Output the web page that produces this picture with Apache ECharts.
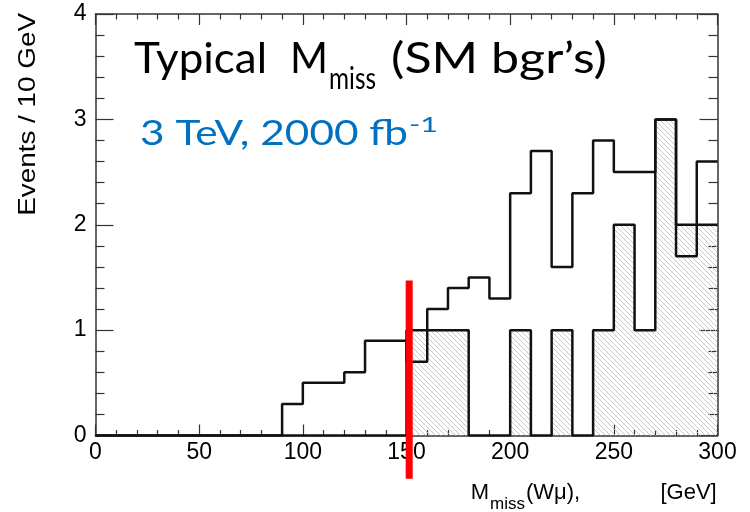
<!DOCTYPE html>
<html>
<head>
<meta charset="utf-8">
<script src="https://cdn.jsdelivr.net/npm/echarts@6/dist/echarts.min.js"></script>
<style>html,body{margin:0;padding:0;background:#fff}#c{width:750px;height:512px}</style>
</head>
<body>
<div id="c"></div>
<script>
// ---- data ----
const binLow = [0,10,20,30,40,50,60,70,80,90,100,110,120,130,140,150,160,170,180,190,200,210,220,230,240,250,260,270,280,290];
const binWidth = 10;
const openCounts = [0,0,0,0,0,0,0,0,0,0.3,0.5,0.5,0.6,0.9,0.9,0.7,1.2,1.4,1.5,1.3,2.3,2.7,1.6,2.3,2.8,2.5,2.5,3.0,1.7,2.6];
const hatchedCounts = [0,0,0,0,0,0,0,0,0,0,0,0,0,0,0,1,1,1,0,0,1,0,1,0,1,2,1,3,2,2];
const xRange = [0, 300];
const yRange = [0, 4];
const cutLine = { x: 151.3, yTop: 1.47, yBottom: -0.41 };

function stepData(counts) {
  const d = binLow.map((x, i) => [x, counts[i]]);
  d.push([binLow[binLow.length - 1] + binWidth, counts[counts.length - 1]]);
  return d;
}

// hatch pattern
const tileSize = 5;
const tile = document.createElement('canvas');
tile.width = tileSize; tile.height = tileSize;
const tc = tile.getContext('2d');
tc.strokeStyle = '#c2c2c2'; tc.lineWidth = 0.9;
for (const o of [-tileSize, 0, tileSize]) {
  tc.beginPath(); tc.moveTo(o, 0); tc.lineTo(o + tileSize, tileSize); tc.stroke();
}

const mctx = document.createElement('canvas').getContext('2d');
function midOffset(size, family) {
  mctx.font = size + 'px "' + family + '"';
  mctx.textBaseline = 'alphabetic';
  const m = mctx.measureText('Hg');
  return (m.fontBoundingBoxAscent - m.fontBoundingBoxDescent) / 2;
}
function txt(str, x, baseline, size, family, color, align, extra) {
  const el = {
    type: 'text', x: x, y: baseline - midOffset(size, family), z: 50, silent: true,
    style: { text: str, fontSize: size, fontFamily: family, fill: color, align: align || 'left', verticalAlign: 'middle' }
  };
  return Object.assign(el, extra || {});
}
function fitTxt(str, x0, x1, baseline, size, family, color) {
  mctx.font = size + 'px "' + family + '"';
  const w = mctx.measureText(str).width;
  return txt(str, x0, baseline, size, family, color, 'left', { scaleX: (x1 - x0) / w });
}

const axisColor = '#333';
function xAx(pos, showLabel) {
  return {
    type: 'value', position: pos, min: xRange[0], max: xRange[1], interval: 50,
    axisLine: { show: true, onZero: false, lineStyle: { color: axisColor, width: 1.5 } },
    axisTick: { show: true, inside: true, length: 11, lineStyle: { color: axisColor, width: 1.2 } },
    minorTick: { show: true, splitNumber: 5, length: 5.5, lineStyle: { color: axisColor, width: 1.2 } },
    splitLine: { show: false }, minorSplitLine: { show: false },
    axisLabel: { show: showLabel, fontSize: 23, fontFamily: 'Liberation Sans', color: '#000', margin: 6 }
  };
}
function yAx(pos, showLabel) {
  return {
    type: 'value', position: pos, min: yRange[0], max: yRange[1], interval: 1,
    axisLine: { show: true, onZero: false, lineStyle: { color: axisColor, width: 1.5 } },
    axisTick: { show: true, inside: true, length: 18, lineStyle: { color: axisColor, width: 1.2 } },
    minorTick: { show: true, splitNumber: 5, length: 9, lineStyle: { color: axisColor, width: 1.2 } },
    splitLine: { show: false }, minorSplitLine: { show: false },
    axisLabel: { show: showLabel, fontSize: 23, fontFamily: 'Liberation Sans', color: '#000', margin: 9 }
  };
}

const chart = echarts.init(document.getElementById('c'), null, { renderer: 'canvas' });
chart.setOption({
  animation: false,
  backgroundColor: '#fff',
  grid: { left: 95.5, right: 32.5, top: 14, bottom: 76.5, containLabel: false, outerBoundsMode: 'none' },
  xAxis: [xAx('bottom', true), xAx('top', false)],
  yAxis: [yAx('left', true), yAx('right', false)],
  series: [
    {
      type: 'line', step: 'end', data: stepData(hatchedCounts), symbol: 'none', z: 2,
      lineStyle: { color: '#111', width: 2.5 },
      areaStyle: { color: { image: tile, repeat: 'repeat' }, opacity: 1 }
    },
    {
      type: 'line', step: 'end', data: stepData(openCounts), symbol: 'none', z: 3,
      lineStyle: { color: '#111', width: 2.5 }
    }
  ]
});

const pTop = chart.convertToPixel({ gridIndex: 0 }, [cutLine.x, cutLine.yTop]);
const pBot = chart.convertToPixel({ gridIndex: 0 }, [cutLine.x, cutLine.yBottom]);

const graphics = [
  { type: 'line', z: 60, silent: true, shape: { x1: pTop[0], y1: pTop[1], x2: pBot[0], y2: pBot[1] },
    style: { stroke: '#ff0000', lineWidth: 7 } },
  // title
  fitTxt('Typical', 134, 267, 76, 43, 'Lato', '#000'),
  fitTxt('M', 290, 328, 76, 43, 'Lato', '#000'),
  fitTxt('miss', 329, 376, 91.7, 30, 'Lato', '#000'),
  fitTxt('(SM bgr\u2019s)', 391, 607, 76, 43, 'Lato', '#000'),
  fitTxt('3 TeV, 2000 fb', 140, 408, 148, 35, 'Lato', '#0070C0'),
  fitTxt('-1', 409, 438, 134, 21, 'Lato', '#0070C0'),
  // x title
  txt('M', 470.7, 500, 22, 'Liberation Sans', '#000'),
  txt('miss', 490, 510, 17, 'Liberation Sans', '#000'),
  txt('(W\u03bc),', 526, 500, 22, 'Liberation Sans', '#000'),
  txt('[GeV]', 716.7, 500, 22, 'Liberation Sans', '#000', 'right'),
  // y title
  { type: 'text', x: 37 - 0.3465 * 24, y: 13, rotation: Math.PI / 2, scaleX: 1.16, z: 50, silent: true,
    style: { text: 'Events / 10 GeV', fontSize: 24, fontFamily: 'Liberation Sans', fill: '#000', align: 'right', verticalAlign: 'middle' } }
];
chart.setOption({ graphic: { elements: graphics } });
</script>
</body>
</html>
